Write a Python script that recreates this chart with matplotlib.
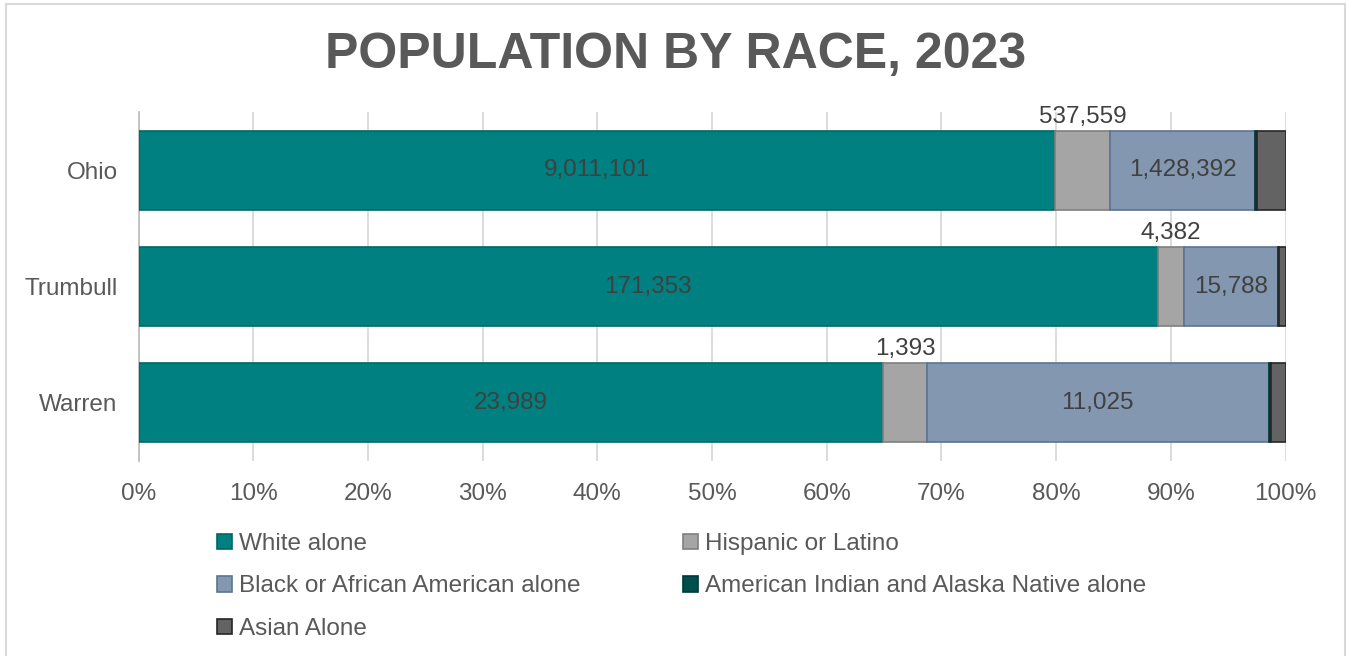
import numpy as np
import matplotlib.pyplot as plt
from matplotlib.patches import Rectangle
from matplotlib.lines import Line2D

plt.rcParams['font.family'] = ['Liberation Sans', 'DejaVu Sans']

# population counts per county (2023)
counties = ['Ohio', 'Trumbull', 'Warren']
races = ['White alone', 'Hispanic or Latino', 'Black or African American alone',
         'American Indian and Alaska Native alone', 'Asian Alone']
white = [9011101, 171353, 23989]
hispanic = [537559, 4382, 1393]
black = [1428392, 15788, 11025]
am_indian = [17800, 160, 60]        # not labelled
asian = [278900, 1150, 470]         # not labelled

colors = ['#008080', '#A5A5A5', '#8497B0', '#004F4F', '#636363']
edges = ['#006666', '#7F7F7F', '#5E7294', '#003838', '#262626']
txt = '#595959'
lbl = '#404040'
fs = 17.5

data = np.array([white, hispanic, black, am_indian, asian], dtype=float)
pct = data / data.sum(axis=0) * 100

fig = plt.figure(figsize=(13.47, 6.56), dpi=100)
ax = fig.add_axes([138.5/1347, 1-461/656, 1147/1347, 349/656])

y = np.arange(len(counties))
h = 0.68
left = np.zeros(len(counties))
for k in range(len(races)):
    ax.barh(y, pct[k], left=left, height=h, color=colors[k], edgecolor=edges[k],
            linewidth=1.2, label=races[k], zorder=3)
    for i in range(len(counties)):
        c = left[i] + pct[k][i] / 2
        s = f'{int(data[k][i]):,}'
        if k in (0, 2):
            ax.text(c, y[i], s, ha='center', va='center', fontsize=fs, color=lbl, zorder=4)
        elif k == 1:
            ax.annotate(s, (c, y[i] - h/2), xytext=(0, 10), textcoords='offset points',
                        ha='center', va='center', fontsize=fs, color=lbl, zorder=4)
    left += pct[k]

ax.set_xlim(0, 100)
ax.set_ylim(2.5, -0.5)
ax.set_xticks(np.arange(0, 101, 10))
ax.set_xticklabels([f'{t}%' for t in range(0, 101, 10)])
ax.set_yticks(y)
ax.set_yticklabels(counties)
ax.tick_params(length=0, labelsize=fs, colors=txt)
ax.tick_params(axis='x', pad=16)
ax.tick_params(axis='y', pad=15)
ax.xaxis.grid(True, color='#D9D9D9', linewidth=1.3, zorder=0)
for sp in ['top', 'right', 'bottom']:
    ax.spines[sp].set_visible(False)
ax.spines['left'].set_color('#BFBFBF')
ax.spines['left'].set_linewidth(1.3)

fig.text(676/1347, 1-55/656, 'POPULATION BY RACE, 2023', ha='center', va='center',
         fontsize=36, fontweight='bold', color=txt)

# legend: row-major order like the original
order = [0, 2, 4, 1, 3]
handles = [Rectangle((0, 0), 1, 1, facecolor=colors[k], edgecolor=edges[k], linewidth=1.2) for k in order]
fig.legend(handles, [races[k] for k in order], ncol=2, loc='upper left',
           bbox_to_anchor=(217/1347, 1-533/656), frameon=False, fontsize=fs,
           handlelength=0.6, handleheight=0.6, handletextpad=0.3,
           columnspacing=4.23, labelspacing=0.84, borderpad=0, borderaxespad=0,
           labelcolor=txt)

# outer chart frame
fc = '#D9D9D9'
fig.add_artist(Line2D([6/1347, 6/1347], [0, 1-4/656], color=fc, lw=1.5))
fig.add_artist(Line2D([6/1347, 1345/1347], [1-4/656, 1-4/656], color=fc, lw=1.5))
fig.add_artist(Line2D([1345/1347, 1345/1347], [0, 1-4/656], color=fc, lw=1.5))

fig.savefig('out.png', dpi=100)
